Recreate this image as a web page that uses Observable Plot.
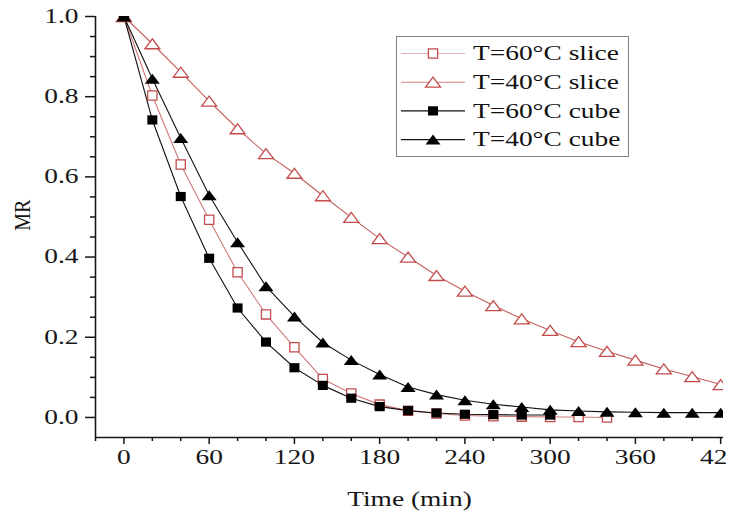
<!DOCTYPE html>
<html>
<head>
<meta charset="utf-8">
<script src="https://cdn.jsdelivr.net/npm/d3@7"></script>
<script src="https://cdn.jsdelivr.net/npm/@observablehq/plot@0.6"></script>
<style>
  body { margin: 0; background: #fff; }
  #chart { position: relative; width: 729px; height: 515px; overflow: hidden; background: #fff; }
</style>
</head>
<body>
<div id="chart"></div>
<script>
// ---------- data ----------
const time = [0, 20, 40, 60, 80, 100, 120, 140, 160, 180, 200, 220, 240, 260, 280, 300, 320, 340, 360, 380, 400, 420];

// T=60°C slice (0 … 340 min)
const mrSlice60 = [1.0, 0.803, 0.631, 0.493, 0.362, 0.257, 0.175, 0.096, 0.060, 0.032, 0.017, 0.010, 0.005, 0.003, 0.002, 0.001, 0.001, 0.0];
// T=40°C slice (0 … 420 min)
const mrSlice40 = [1.0, 0.932, 0.861, 0.789, 0.720, 0.658, 0.609, 0.553, 0.499, 0.446, 0.400, 0.354, 0.315, 0.279, 0.246, 0.217, 0.189, 0.165, 0.143, 0.121, 0.102, 0.082];
// T=60°C cube (0 … 300 min)
const mrCube60 = [1.0, 0.742, 0.551, 0.397, 0.273, 0.188, 0.124, 0.080, 0.048, 0.027, 0.017, 0.011, 0.008, 0.007, 0.006, 0.006];
// T=40°C cube (0 … 420 min)
const mrCube40 = [1.0, 0.845, 0.697, 0.554, 0.437, 0.327, 0.252, 0.187, 0.143, 0.107, 0.076, 0.057, 0.043, 0.033, 0.026, 0.019, 0.016, 0.014, 0.013, 0.012, 0.012, 0.012];

const seriesNames = ["T=60°C slice", "T=40°C slice", "T=60°C cube", "T=40°C cube"];

const xTicks = [0, 60, 120, 180, 240, 300, 360, 420];
const xMinorTicks = [-20, 20, 40, 80, 100, 140, 160, 200, 220, 260, 280, 320, 340, 380, 400];
const yTicks = [0.0, 0.2, 0.4, 0.6, 0.8, 1.0];
const yMinorTicks = [0.05, 0.1, 0.15, 0.25, 0.3, 0.35, 0.45, 0.5, 0.55, 0.65, 0.7, 0.75, 0.85, 0.9, 0.95];

const xLabel = "Time (min)";
const yLabel = "MR";

// ---------- helpers ----------
const rows = vals => vals.map((v, i) => ({t: time[i], v}));
const rect = (hw, hh) => ({draw(c) { c.moveTo(-hw, -hh); c.lineTo(hw, -hh); c.lineTo(hw, hh); c.lineTo(-hw, hh); c.closePath(); }});
const tri = (hw, hh) => ({draw(c) { c.moveTo(0, -hh); c.lineTo(hw, hh); c.lineTo(-hw, hh); c.closePath(); }});

const red = "#c44b4b";
const styles = [
  {name: seriesNames[0], data: rows(mrSlice60), line: "#cf7a7a", symbol: rect(4.6, 4.6), fill: "white", stroke: red, sw: 1.3},
  {name: seriesNames[1], data: rows(mrSlice40), line: "#c45e5e", symbol: tri(7.5, 5), fill: "white", stroke: red, sw: 1.3},
  {name: seriesNames[2], data: rows(mrCube60), line: "#111", symbol: rect(5, 4.6), fill: "#000", stroke: "none", sw: 0},
  {name: seriesNames[3], data: rows(mrCube40), line: "#111", symbol: tri(7.5, 5), fill: "#000", stroke: "none", sw: 0}
];

const font = "'Liberation Serif', 'Times New Roman', serif";

const lineMarks = styles.map(s => Plot.line(s.data, {x: "t", y: "v", stroke: s.line, strokeWidth: 1.1, clip: true}));
const dotOrder = [1, 0, 2, 3];
const dotMarks = dotOrder.map(k => {
  const s = styles[k];
  return Plot.dot(s.data, {x: "t", y: "v", symbol: s.symbol, r: 4, fill: s.fill, stroke: s.stroke, strokeWidth: s.sw, clip: true});
});

const plot = Plot.plot({
  width: 726,
  height: 515,
  marginTop: 16,
  marginBottom: 78,
  marginLeft: 95,
  marginRight: 3,
  style: {fontFamily: font, fontSize: "20px", color: "#161616", background: "#fff"},
  x: {domain: [-20, 422]},
  y: {domain: [-0.05, 1.0]},
  marks: [
    Plot.axisY({ticks: yMinorTicks, tickSize: 5, tickFormat: () => "", label: null, strokeWidth: 1.5}),
    Plot.axisY({ticks: yTicks, tickSize: 10, tickPadding: 7, tickFormat: d3.format(".1f"), label: yLabel, labelAnchor: "center", labelOffset: 73, labelArrow: false, strokeWidth: 1.5}),
    Plot.axisX({ticks: xMinorTicks, tickSize: 4, tickFormat: () => "", label: null, strokeWidth: 1.5}),
    Plot.axisX({ticks: xTicks, tickSize: 7, tickPadding: 5, tickFormat: d3.format("d"), label: xLabel, labelAnchor: "center", labelOffset: 68, labelArrow: false, strokeWidth: 1.5}),
    Plot.ruleX([-20], {strokeWidth: 1.6}),
    Plot.ruleY([-0.05], {strokeWidth: 1.6}),
    ...lineMarks,
    ...dotMarks
  ]
});

document.getElementById("chart").appendChild(plot);

// ---------- legend ----------
const svg = d3.select(plot);
const lg = svg.append("g").attr("font-family", font).attr("font-size", 20).attr("text-anchor", "start");
lg.append("rect").attr("x", 396.5).attr("y", 36.5).attr("width", 232).attr("height", 120)
  .attr("fill", "white").attr("stroke", "#808080").attr("stroke-width", 1);
const legendLine = ["#e2b3b3", "#cc8080", "#111", "#111"];
styles.forEach((s, i) => {
  const cy = 53.5 + i * 28.7;
  lg.append("line").attr("x1", 401).attr("x2", 465).attr("y1", cy).attr("y2", cy)
    .attr("stroke", legendLine[i]).attr("stroke-width", 1.1);
  const p = d3.path(); s.symbol.draw(p);
  lg.append("path").attr("d", p.toString()).attr("transform", `translate(433,${cy})`)
    .attr("fill", s.fill).attr("stroke", s.stroke).attr("stroke-width", s.sw);
  lg.append("text").attr("transform", `translate(473,${cy})`).attr("text-anchor", "start")
    .attr("dy", "0.34em").attr("fill", "#111").text(s.name);
});

// ---------- the reference image is horizontally stretched: widen glyphs ----------
let mrText = null;
plot.querySelectorAll("text").forEach(t => {
  if (t.textContent === yLabel) { mrText = t; return; }
  const len = t.getComputedTextLength();
  if (len > 0) {
    t.setAttribute("textLength", (len * 1.37).toFixed(1));
    t.setAttribute("lengthAdjust", "spacingAndGlyphs");
  }
});
// place the rotated y label like the reference (centre ≈ 22, 215)
if (mrText) {
  const tr = mrText.getAttribute("transform") || "";
  mrText.setAttribute("transform", tr + " scale(1,1.15)");
  const b = mrText.getBoundingClientRect();
  const pb = plot.getBoundingClientRect();
  const cx = b.x - pb.x + b.width / 2, cy = b.y - pb.y + b.height / 2;
  mrText.setAttribute("transform", `translate(${(22.5 - cx).toFixed(1)},${(215 - cy).toFixed(1)}) ` + tr + " scale(1,1.15)");
}
</script>
</body>
</html>
